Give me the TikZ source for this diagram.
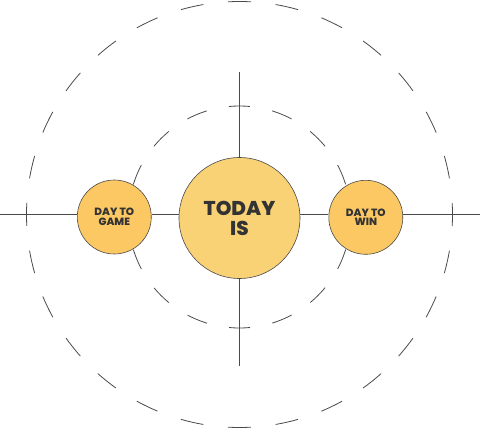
\documentclass[tikz,border=0pt]{standalone}
\usepackage{fontspec}
\newfontfamily\badgefont{Poppins}[BoldFont={Poppins ExtraBold}]
\usepackage{tikz}

\definecolor{ink}{HTML}{4A4A4A}
\definecolor{letter}{HTML}{333333}
\definecolor{sunny}{HTML}{FCC864}
\definecolor{pale}{HTML}{FAD276}

\begin{document}
\begin{tikzpicture}[
   x=1pt,y=1pt,
   font=\badgefont\bfseries,
   outer ring/.style={draw=ink,line width=0.8pt,dash pattern=on 23pt off 24.8pt,dash phase=11.5pt},
   inner ring/.style={draw=ink,line width=0.8pt,dash pattern=on 21pt off 22.6pt,dash phase=10.5pt},
   badge/.style={circle,draw=ink,line width=0.6pt,fill=sunny,inner sep=0pt,align=center,text=letter},
   big/.style={badge,fill=pale,minimum size=121pt,font=\badgefont\bfseries\fontsize{20}{20}\selectfont},
   small/.style={badge,minimum size=74pt,font=\badgefont\bfseries\fontsize{10.5}{9.5}\selectfont},
   link/.style={draw=ink,line width=0.8pt}]
\useasboundingbox (-239.5,-215) rectangle (240.5,214);
\draw[outer ring] (0,-0.5) circle (213);
\draw[inner ring] (0,-3) circle (111);
\node[big] (today) at (0,-4) {TODAY\\IS};
\node[small] (game) at (-125.2,-3) {DAY TO\\GAME};
\node[small] (win) at (126.3,-3.3) {DAY TO\\WIN};
\coordinate (lft) at (-239.5,0);
\coordinate (rgt) at (240.5,0);
\coordinate (top) at (0,142);
\coordinate (bot) at (0,-152);
\draw[link] (lft) -- (game.west |- lft);
\draw[link] (game.east |- lft) -- (today.west |- lft);
\draw[link] (today.east |- lft) -- (win.west |- lft);
\draw[link] (win.east |- lft) -- (rgt);
\draw[link] (top) -- (today.north);
\draw[link] (today.south) -- (bot);
\end{tikzpicture}
\end{document}
